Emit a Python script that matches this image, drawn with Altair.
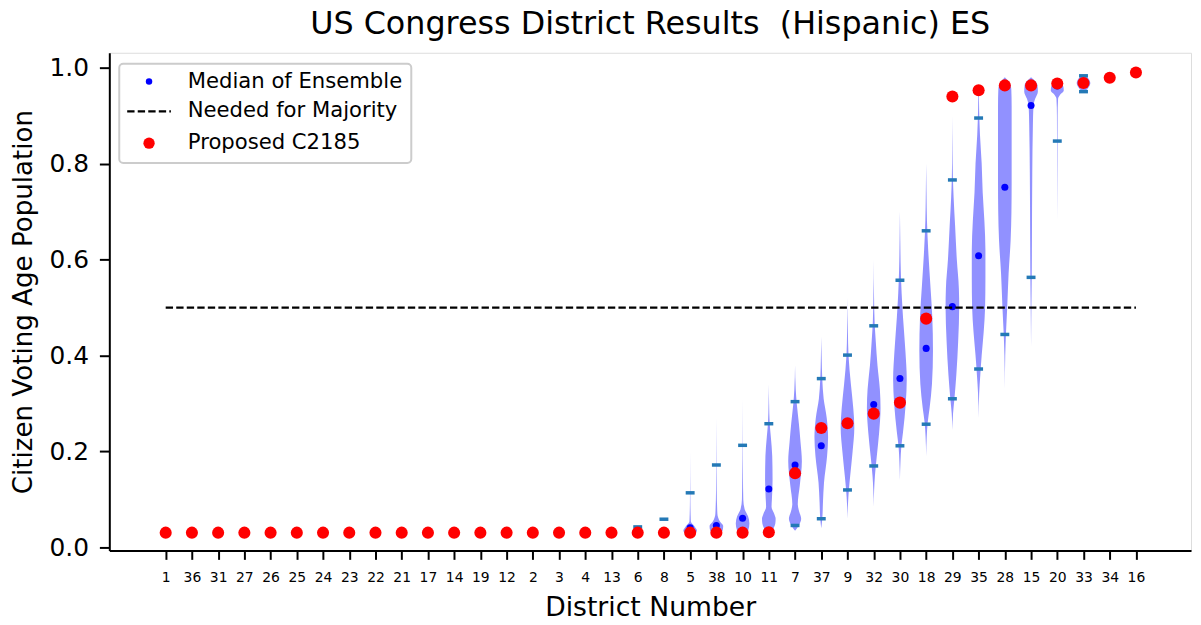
import altair as alt
import pandas as pd

# ---------------- data ----------------
DISTRICTS = ["1", "36", "31", "27", "26", "25", "24", "23", "22", "21", "17", "14",
             "19", "12", "2", "3", "4", "13", "6", "8", "5", "38", "10", "11", "7",
             "37", "9", "32", "30", "18", "29", "35", "28", "15", "20", "33", "34", "16"]

PROPOSED = [0.031, 0.031, 0.031, 0.031, 0.031, 0.031, 0.031, 0.031, 0.031, 0.031,
            0.031, 0.031, 0.031, 0.031, 0.031, 0.031, 0.031, 0.031, 0.031, 0.031,
            0.031, 0.031, 0.031, 0.032, 0.155, 0.249, 0.259, 0.279, 0.302, 0.477,
            0.940, 0.953, 0.963, 0.963, 0.967, 0.968, 0.979, 0.990]

MEDIANS = [0.031, 0.031, 0.031, 0.031, 0.031, 0.031, 0.031, 0.031, 0.031, 0.031,
           0.031, 0.031, 0.031, 0.031, 0.031, 0.031, 0.031, 0.031, 0.032, 0.033,
           0.041, 0.046, 0.061, 0.122, 0.172, 0.212, 0.262, 0.298, 0.352, 0.415,
           0.502, 0.608, 0.751, 0.921, 0.962, 0.968, 0.979, 0.990]

LOWER_Q = [0.031, 0.031, 0.031, 0.031, 0.031, 0.031, 0.031, 0.031, 0.031, 0.031,
           0.031, 0.031, 0.031, 0.031, 0.031, 0.031, 0.031, 0.031, 0.030, 0.030,
           0.030, 0.030, 0.031, 0.032, 0.046, 0.060, 0.120, 0.170, 0.212, 0.257,
           0.310, 0.372, 0.444, 0.563, 0.847, 0.950, 0.978, 0.989]

UPPER_Q = [0.031, 0.031, 0.031, 0.031, 0.031, 0.031, 0.031, 0.031, 0.031, 0.031,
           0.031, 0.031, 0.031, 0.031, 0.031, 0.031, 0.031, 0.031, 0.043, 0.059,
           0.114, 0.172, 0.213, 0.258, 0.304, 0.352, 0.401, 0.462, 0.557, 0.660,
           0.766, 0.895, 0.964, 0.965, 0.968, 0.983, 0.980, 0.991]

# violin outlines: (share, relative half-width)
VIOLINS = {
    "5":  [(0.025, 0), (0.035, 1.0), (0.045, 0.6), (0.055, 0.1), (0.10, 0.03), (0.20, 0)],
    "38": [(0.025, 0), (0.035, 0.9), (0.045, 1.0), (0.055, 0.5), (0.07, 0.15), (0.12, 0.05),
           (0.20, 0.02), (0.27, 0)],
    "10": [(0.025, 0), (0.035, 0.8), (0.05, 1.0), (0.065, 0.8), (0.08, 0.3), (0.10, 0.1),
           (0.15, 0.05), (0.22, 0.02), (0.31, 0)],
    "11": [(0.025, 0), (0.035, 0.5), (0.05, 0.95), (0.06, 1.0), (0.07, 0.8), (0.085, 0.4),
           (0.10, 0.45), (0.14, 0.55), (0.19, 0.5), (0.23, 0.3), (0.26, 0.12), (0.30, 0.04),
           (0.34, 0)],
    "7":  [(0.035, 0), (0.045, 0.5), (0.06, 0.9), (0.075, 0.6), (0.09, 0.4), (0.13, 0.7),
           (0.18, 1.0), (0.22, 0.8), (0.26, 0.55), (0.30, 0.25), (0.33, 0.1), (0.38, 0)],
    "37": [(0.04, 0), (0.06, 0.15), (0.095, 0.25), (0.135, 0.4), (0.19, 0.85), (0.23, 1.0),
           (0.27, 0.8), (0.31, 0.35), (0.35, 0.15), (0.40, 0.05), (0.44, 0)],
    "9":  [(0.06, 0), (0.09, 0.07), (0.12, 0.2), (0.15, 0.4), (0.20, 0.75), (0.25, 1.0),
           (0.29, 0.85), (0.34, 0.5), (0.40, 0.15), (0.45, 0.06), (0.52, 0)],
    "32": [(0.085, 0), (0.12, 0.06), (0.15, 0.18), (0.19, 0.45), (0.24, 0.8), (0.29, 1.0),
           (0.33, 0.9), (0.38, 0.55), (0.43, 0.3), (0.47, 0.13), (0.52, 0.05), (0.60, 0)],
    "30": [(0.14, 0), (0.18, 0.08), (0.21, 0.2), (0.24, 0.45), (0.30, 0.85), (0.35, 1.0),
           (0.41, 0.8), (0.48, 0.45), (0.53, 0.25), (0.58, 0.12), (0.64, 0.05), (0.70, 0)],
    "18": [(0.19, 0), (0.23, 0.08), (0.26, 0.22), (0.29, 0.5), (0.34, 0.85), (0.41, 1.0),
           (0.48, 0.9), (0.55, 0.6), (0.62, 0.3), (0.68, 0.12), (0.74, 0.05), (0.80, 0)],
    "29": [(0.245, 0), (0.28, 0.1), (0.31, 0.3), (0.36, 0.58), (0.43, 0.85), (0.50, 1.0),
           (0.54, 0.95), (0.60, 0.65), (0.67, 0.4), (0.73, 0.18), (0.77, 0.08), (0.83, 0.03),
           (0.90, 0)],
    "35": [(0.27, 0), (0.32, 0.08), (0.36, 0.25), (0.40, 0.45), (0.45, 0.75), (0.50, 0.95),
           (0.56, 1.0), (0.62, 1.0), (0.68, 0.85), (0.74, 0.6), (0.80, 0.45), (0.86, 0.2),
           (0.91, 0.08), (0.95, 0.03), (0.965, 0)],
    "28": [(0.33, 0), (0.40, 0.06), (0.45, 0.18), (0.50, 0.35), (0.57, 0.55), (0.64, 0.85),
           (0.70, 0.97), (0.76, 1.0), (0.85, 1.0), (0.92, 1.0), (0.955, 0.95), (0.97, 0.6),
           (0.98, 0)],
    "15": [(0.42, 0), (0.50, 0.05), (0.56, 0.1), (0.64, 0.13), (0.78, 0.18), (0.88, 0.27),
           (0.92, 0.35), (0.935, 0.6), (0.95, 1.0), (0.963, 0.95), (0.972, 0.6), (0.98, 0)],
    "20": [(0.68, 0), (0.80, 0.03), (0.90, 0.05), (0.935, 0.12), (0.945, 0.5), (0.952, 0.95),
           (0.96, 0.9), (0.968, 0.5), (0.975, 0)],
    "33": [(0.948, 0), (0.96, 0.8), (0.968, 1.0), (0.976, 0.8), (0.985, 0)],
}

MAJORITY = 0.5
LEGEND_LABELS = ["Median of Ensemble", "Needed for Majority", "Proposed C2185"]

# ---------------- tables ----------------
pos = list(range(len(DISTRICTS)))
pts = pd.DataFrame({"pos": pos, "district": DISTRICTS, "proposed": PROPOSED,
                    "median": MEDIANS, "lo": LOWER_Q, "hi": UPPER_Q})

HALF = 0.26
vrows = []
for d, prof in VIOLINS.items():
    p = DISTRICTS.index(d)
    for v, w in sorted(prof):
        vrows.append({"district": d, "pos": p, "v": v,
                      "xl": p - HALF * w, "xr": p + HALF * w})
vdf = pd.DataFrame(vrows)

qrows = []
for p, lo, hi in zip(pos, LOWER_Q, UPPER_Q):
    for q in (lo, hi):
        qrows.append({"pos": p, "q": q, "a": p - 0.17, "b": p + 0.17})
qdf = pd.DataFrame(qrows)

maj = pd.DataFrame({"a": [pos[0]], "b": [pos[-1]], "y": [MAJORITY]})

FONT = "DejaVu Sans"
label_js = "[" + ",".join("'" + d + "'" for d in DISTRICTS) + "][datum.value]"

xscale = alt.Scale(domain=[-2.15, 39.1], nice=False, zero=False)
yscale = alt.Scale(domain=[-0.006, 1.031], nice=False, zero=False)

xaxis = alt.Axis(values=pos, labelExpr=label_js, title="District Number",
                 labelOverlap=False, labelFlush=False, grid=False)
yaxis = alt.Axis(values=[0, 0.2, 0.4, 0.6, 0.8, 1.0], format=".1f",
                 title="Citizen Voting Age Population", grid=False)


def X(field):
    return alt.X(field, scale=xscale, axis=xaxis, stack=None)


def Y(field):
    return alt.Y(field, scale=yscale, axis=yaxis, stack=None)


violins = alt.Chart(vdf).mark_area(orient="horizontal", interpolate="monotone",
                                   color="#9191ff", opacity=1).encode(
    y=Y("v:Q"),
    x=X("xl:Q"),
    x2="xr:Q",
    detail="district:N",
)

quant = alt.Chart(qdf).mark_rule(color="#2479b6", strokeWidth=3.5, strokeCap="butt").encode(
    x=X("a:Q"), x2="b:Q", y=Y("q:Q"))

medians = alt.Chart(pts).mark_circle(color="#0000ff", size=50, opacity=1).encode(
    x=X("pos:Q"), y=Y("median:Q"))

majority = alt.Chart(maj).mark_rule(color="black", strokeWidth=2.3,
                                    strokeDash=[7.4, 3.2]).encode(
    x=X("a:Q"), x2="b:Q", y=Y("y:Q"))

proposed = alt.Chart(pts).mark_circle(color="#ff0000", size=148, opacity=1).encode(
    x=X("pos:Q"), y=Y("proposed:Q"))

one = alt.Data(values=[{"k": 0}])
leg_box = alt.Chart(one).mark_rect(fill="white", stroke="#cccccc", strokeWidth=2,
                                   cornerRadius=4, opacity=1).encode(
    x=alt.value(10), x2=alt.value(304), y=alt.value(11), y2=alt.value(111))
leg_med = alt.Chart(one).mark_circle(color="#0000ff", size=42, opacity=1).encode(
    x=alt.value(40), y=alt.value(29))
leg_dash = alt.Chart(one).mark_rule(color="black", strokeWidth=2.3,
                                    strokeDash=[7.4, 3.2]).encode(
    x=alt.value(18), x2=alt.value(62), y=alt.value(59))
leg_prop = alt.Chart(one).mark_circle(color="#ff0000", size=130, opacity=1).encode(
    x=alt.value(40), y=alt.value(91))
leg_texts = []
for lab, yy in zip(LEGEND_LABELS, [29, 59, 91]):
    leg_texts.append(alt.Chart(one).mark_text(align="left", baseline="middle",
                                              font=FONT, fontSize=21.3, color="black").encode(
        x=alt.value(79), y=alt.value(yy), text=alt.value(lab)))

chart = alt.layer(violins, quant, medians, majority, proposed,
                  leg_box, leg_med, leg_dash, leg_prop, *leg_texts).properties(
    width=1089, height=501,
    title=alt.TitleParams("US Congress District Results \u00a0(Hispanic) ES",
                          font=FONT, fontSize=32, fontWeight="normal", color="black",
                          anchor="middle", offset=12),
    autosize=alt.AutoSizeParams(type="none"),
    padding={"left": 102, "top": 43, "right": 2, "bottom": 70},
).configure_view(stroke="black", strokeWidth=2).configure(
    background="white"
).configure_axisX(
    labelFontSize=14, titleFontSize=26.8, titleFontWeight="normal", labelFont=FONT,
    titleFont=FONT, tickSize=9, tickWidth=2, domainWidth=2, domainColor="black",
    tickColor="black", labelColor="black", titleColor="black", labelPadding=11,
    titlePadding=11, labelOverlap=False,
).configure_axisY(
    labelFontSize=25, titleFontSize=26.3, titleFontWeight="normal", labelFont=FONT,
    titleFont=FONT, tickSize=10, tickWidth=2, domainWidth=2, domainColor="black",
    tickColor="black", labelColor="black", titleColor="black", labelPadding=11,
    titlePadding=12,
)

chart.save("out.html", embed_options={"renderer": "svg", "actions": False})
